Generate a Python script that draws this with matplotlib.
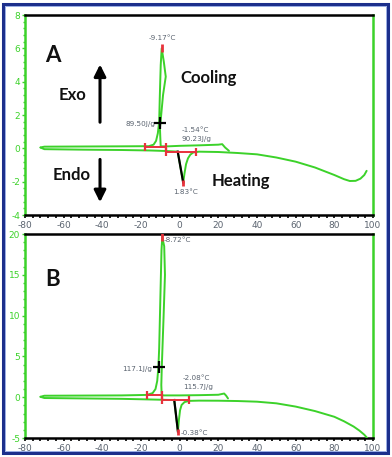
import matplotlib
matplotlib.use("Agg")
import matplotlib.pyplot as plt
from matplotlib.patches import Rectangle
from matplotlib.ticker import MultipleLocator, AutoMinorLocator

plt.rcParams["axes.unicode_minus"] = False

# ---------------- Panel A data ----------------
a_cool_x = [25.5, 23.5, 22.0, 20.0, 10.0, 0.0, -6.0, -9.8, -10.0, -10.2, -8.6, -7.2, -8.2, -9.3,
            -9.8, -10.3, -10.6, -11.3, -12.2, -13.5, -16.0, -30.0, -50.0, -70.0, -72.0]
a_cool_y = [-0.15, 0.05, 0.25, 0.22, 0.18, 0.15, 0.12, 0.12, 0.6, 1.2, 3.2, 4.3, 5.2, 6.0,
            5.0, 3.0, 1.6, 0.9, 0.45, 0.22, 0.13, 0.12, 0.11, 0.1, 0.05]
a_heat_x = [-72.0, -70.0, -50.0, -30.0, -15.0, -7.0, -1.0, 1.83, 2.5, 3.3, 4.3, 5.5, 7.0, 10.0,
            20.0, 30.0, 40.0, 50.0, 60.0, 70.0, 80.0, 85.0, 88.0, 91.0, 93.5, 95.5, 96.7]
a_heat_y = [0.05, -0.05, -0.08, -0.1, -0.13, -0.16, -0.2, -2.05, -1.5, -0.95, -0.6, -0.38, -0.25, -0.2,
            -0.22, -0.28, -0.36, -0.55, -0.8, -1.15, -1.6, -1.85, -1.96, -1.95, -1.82, -1.6, -1.35]
a_black_x = [-1.0, 1.83]
a_black_y = [-0.2, -2.05]
a_int_cool_x = [-17.9, -7.2]
a_int_cool_y = [0.1, 0.1]
a_int_heat_x = [-7.2, 8.3]
a_int_heat_y = [-0.22, -0.22]
a_peak = (-9.3, 6.05)
a_min = (1.83, -2.1)
a_cross = (-10.4, 1.55)
a_labels = ["-9.17°C", "89.50J/g", "-1.54°C", "90.23J/g", "1.83°C"]

# ---------------- Panel B data ----------------
b_cool_x = [25.0, 24.0, 23.0, 20.0, 10.0, 0.0, -8.0, -9.3, -9.5, -9.2, -8.3, -7.6, -8.0, -9.0,
            -9.4, -9.7, -10.2, -10.6, -11.0, -11.6, -12.5, -14.0, -17.0, -30.0, -50.0, -70.0, -72.0]
b_cool_y = [-0.15, 0.2, 0.45, 0.3, 0.25, 0.22, 0.22, 0.25, 1.5, 4.0, 10.0, 15.0, 18.5, 19.6,
            18.0, 15.0, 10.0, 6.0, 3.7, 2.0, 1.0, 0.5, 0.28, 0.22, 0.2, 0.18, 0.05]
b_heat_x = [-72.0, -70.0, -50.0, -30.0, -15.0, -8.0, -2.8, -0.9, -0.4, 0.2, 1.0, 2.5, 5.0, 10.0,
            20.0, 30.0, 40.0, 50.0, 60.0, 70.0, 80.0, 85.0, 90.0, 93.0, 95.5, 97.0]
b_heat_y = [0.05, -0.1, -0.15, -0.2, -0.28, -0.32, -0.35, -4.2, -2.8, -1.6, -0.95, -0.6, -0.45, -0.42,
            -0.43, -0.47, -0.55, -0.75, -1.15, -1.7, -2.4, -2.95, -3.6, -4.1, -4.6, -5.0]
b_black_x = [-2.8, -0.9]
b_black_y = [-0.35, -4.2]
b_int_cool_x = [-17.1, -9.3]
b_int_cool_y = [0.3, 0.3]
b_int_heat_x = [-9.3, 4.8]
b_int_heat_y = [-0.35, -0.35]
b_peak = (-9.0, 19.6)
b_min = (-0.9, -4.3)
b_cross = (-10.9, 3.7)
b_labels = ["-8.72°C", "117.1J/g", "-2.08°C", "115.7J/g", "-0.38°C"]

x_ticks = [-80, -60, -40, -20, 0, 20, 40, 60, 80, 100]
a_yticks = [-4, -2, 0, 2, 4, 6, 8]
b_yticks = [-5, 0, 5, 10, 15, 20]

GREEN = "#3cd22a"
RED = "#e8323c"
GRAY = "#5b6470"
W, H = 392, 457

fig = plt.figure(figsize=(W / 100, H / 100), dpi=100)

def make_ax(top_px, bot_px):
    left, right = 25, 373
    return fig.add_axes([left / W, 1 - bot_px / H, (right - left) / W, (bot_px - top_px) / H])

axA = make_ax(15, 215)
axB = make_ax(234, 438)

def style(ax, yticks, ymin_minor):
    ax.set_xlim(-80, 100)
    ax.set_ylim(yticks[0], yticks[-1])
    ax.set_xticks(x_ticks)
    ax.set_yticks(yticks)
    ax.xaxis.set_minor_locator(AutoMinorLocator(5))
    ax.yaxis.set_minor_locator(MultipleLocator(ymin_minor))
    for s in ["left", "right"]:
        ax.spines[s].set_color(GREEN)
        ax.spines[s].set_linewidth(1.8)
    for s in ["top", "bottom"]:
        ax.spines[s].set_color("black")
        ax.spines[s].set_linewidth(1.8)
    ax.tick_params(axis="x", which="both", colors="black", labelcolor=GRAY, labelsize=6.5,
                   length=2.5, width=1.2, pad=1.5)
    ax.tick_params(axis="x", which="minor", length=2.0)
    ax.tick_params(axis="y", which="both", colors=GREEN, labelcolor=GREEN, labelsize=6.5,
                   length=2.5, width=1.0, pad=1.0)
    ax.tick_params(axis="y", which="minor", length=1.5)

def draw(ax, cx, cy, hx, hy, bx, by, icx, icy, ihx, ihy, peak, mn, cross):
    ax.plot(cx, cy, color=GREEN, lw=1.4, solid_capstyle="round", zorder=3)
    ax.plot(hx, hy, color=GREEN, lw=1.4, solid_capstyle="round", zorder=3)
    ax.plot(bx, by, color="black", lw=1.6, zorder=4)
    ax.plot(icx, icy, color=RED, lw=1.4, marker="|", ms=6, mew=1.6, zorder=5)
    ax.plot(ihx, ihy, color=RED, lw=1.4, marker="|", ms=6, mew=1.6, zorder=5)
    ax.plot([peak[0]], [peak[1]], marker="|", color=RED, ms=6, mew=2, zorder=5)
    ax.plot([mn[0]], [mn[1]], marker="|", color=RED, ms=5, mew=2, zorder=5)
    ax.plot([cross[0]], [cross[1]], marker="+", color="black", ms=8, mew=1.6, zorder=6)

style(axA, a_yticks, 0.4)
style(axB, b_yticks, 1)

draw(axA, a_cool_x, a_cool_y, a_heat_x, a_heat_y, a_black_x, a_black_y,
     a_int_cool_x, a_int_cool_y, a_int_heat_x, a_int_heat_y, a_peak, a_min, a_cross)
draw(axB, b_cool_x, b_cool_y, b_heat_x, b_heat_y, b_black_x, b_black_y,
     b_int_cool_x, b_int_cool_y, b_int_heat_x, b_int_heat_y, b_peak, b_min, b_cross)

bold = dict(family=["Lato", "DejaVu Sans"], fontweight="bold", color="#111111")
small = dict(family=["DejaVu Sans"], fontsize=5.2, color=GRAY)

# Panel A text
axA.text(-65.5, 5.6, "A", fontsize=16, ha="center", va="center", **bold)
axA.text(-55.2, 3.2, "Exo", fontsize=12, ha="center", va="center", **bold)
axA.text(-55.7, -1.6, "Endo", fontsize=12, ha="center", va="center", **bold)
axA.text(14.7, 4.2, "Cooling", fontsize=12, ha="center", va="center", **bold)
axA.text(31.7, -1.95, "Heating", fontsize=12, ha="center", va="center", **bold)
axA.annotate("", xy=(-41.2, 5.2), xytext=(-41.2, 1.4),
             arrowprops=dict(arrowstyle="-|>,head_width=0.35,head_length=0.7", color="black", lw=2.2))
axA.annotate("", xy=(-41.2, -3.4), xytext=(-41.2, -0.5),
             arrowprops=dict(arrowstyle="-|>,head_width=0.35,head_length=0.7", color="black", lw=2.2))
axA.text(-9.1, 6.6, a_labels[0], ha="center", va="center", **small)
axA.text(-12.6, 1.45, a_labels[1], ha="right", va="center", **small)
axA.text(1.2, 1.1, a_labels[2], ha="left", va="center", **small)
axA.text(1.2, 0.58, a_labels[3], ha="left", va="center", **small)
axA.text(2.8, -2.6, a_labels[4], ha="center", va="center", **small)

# Panel B text
axB.text(-66, 14.4, "B", fontsize=16, ha="center", va="center", **bold)
axB.text(-8.3, 19.3, b_labels[0], ha="left", va="center", **small)
axB.text(-14.2, 3.4, b_labels[1], ha="right", va="center", **small)
axB.text(1.6, 2.4, b_labels[2], ha="left", va="center", **small)
axB.text(1.6, 1.3, b_labels[3], ha="left", va="center", **small)
axB.text(0.3, -4.35, b_labels[4], ha="left", va="center", **small)

# Outer frame
fig.patches.append(Rectangle((3 / W, 4 / H), (W - 7) / W, (H - 8) / H, transform=fig.transFigure,
                             fill=False, edgecolor="#1c2f8c", lw=2.2, zorder=10))
fig.patches.append(Rectangle((5 / W, 6 / H), (W - 11) / W, (H - 12) / H, transform=fig.transFigure,
                             fill=False, edgecolor="#8aa0e0", lw=0.6, zorder=10))

fig.savefig("out.png", dpi=100)
